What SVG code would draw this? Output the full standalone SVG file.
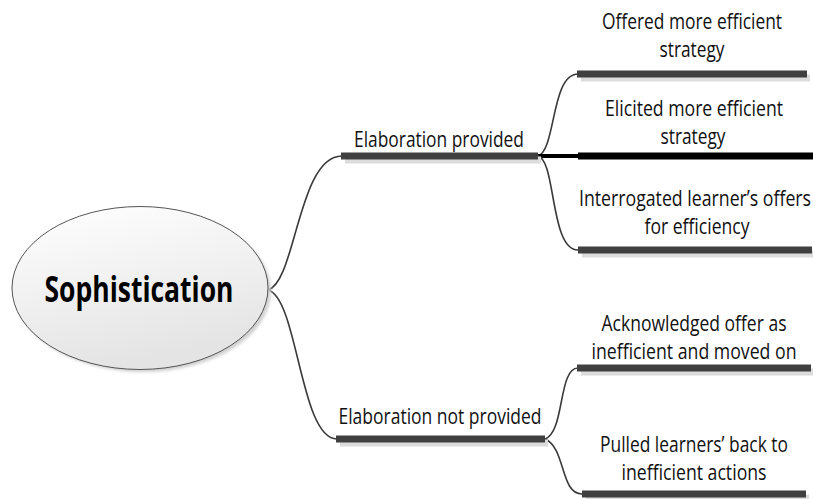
<svg xmlns="http://www.w3.org/2000/svg" width="813" height="499" viewBox="0 0 813 499">
  <defs>
    <linearGradient id="nodeFill" x1="0" y1="0" x2="0.3" y2="1">
      <stop offset="0" stop-color="#ffffff"/>
      <stop offset="1" stop-color="#e4e4e4"/>
    </linearGradient>
    <filter id="soft" x="-10%" y="-10%" width="120%" height="120%">
      <feGaussianBlur stdDeviation="1.5"/>
    </filter>
  </defs>
  <style>
    .lbl { font-family: "Open Sans", "Liberation Sans", sans-serif; font-size: 21px; fill: #111; text-anchor: middle; }
    .root { font-family: "Open Sans", "Liberation Sans", sans-serif; font-size: 36px; font-weight: bold; fill: #000; text-anchor: middle; }
    .bar { stroke: #404040; stroke-width: 7; }
    .bar-dark { stroke: #000; stroke-width: 7; }
    .shade { stroke: #dcdcdc; stroke-width: 7; }
    .link { fill: none; stroke: #3a3a3a; stroke-width: 1.6; }
    .link-dark { fill: none; stroke: #000; stroke-width: 4; }
  </style>

  <rect width="813" height="499" fill="#ffffff"/>

  <!-- connectors -->
  <g id="connectors">
    <path class="link" d="M268,290 C296,282 298,156 342,156"/>
    <path class="link" d="M268,290 C298,298 300,439 337,439"/>
    <path class="link" d="M538,156 C556,150 551,74 578,74"/>
    <path class="link-dark" d="M538,156 L579,156"/>
    <path class="link" d="M538,156 C556,160 550,250 578,250"/>
    <path class="link" d="M545,439 C565,432 558,368 578,368"/>
    <path class="link" d="M545,439 C566,448 560,494 582,494"/>
  </g>

  <!-- central topic -->
  <g id="sophistication">
    <ellipse cx="143" cy="291" rx="128" ry="81" fill="#d0d0d0" filter="url(#soft)"/>
    <ellipse cx="140" cy="288" rx="128" ry="81.5" fill="url(#nodeFill)" stroke="#555" stroke-width="1"/>
    <text class="root" x="139" y="302" textLength="189" lengthAdjust="spacingAndGlyphs">Sophistication</text>
  </g>

  <!-- main branches (labels are set in a narrowed face: scale 0.84 horizontally) -->
  <g id="elaboration-provided">
    <line class="shade" x1="345" y1="160" x2="541" y2="160"/>
    <line class="bar" x1="341" y1="156" x2="538" y2="156"/>
    <text class="lbl" transform="translate(439,147) scale(0.84,1)" textLength="202.4" lengthAdjust="spacingAndGlyphs">Elaboration provided</text>
  </g>

  <g id="elaboration-not-provided">
    <line class="shade" x1="340" y1="443" x2="548" y2="443"/>
    <line class="bar" x1="336" y1="439" x2="545" y2="439"/>
    <text class="lbl" transform="translate(440,424) scale(0.84,1)" textLength="241.7" lengthAdjust="spacingAndGlyphs">Elaboration not provided</text>
  </g>

  <!-- sub-branches -->
  <g id="offered-strategy">
    <line class="shade" x1="581" y1="78" x2="810" y2="78"/>
    <line class="bar" x1="577" y1="74" x2="807" y2="74"/>
    <text class="lbl" transform="translate(692,29) scale(0.84,1)" textLength="214.3" lengthAdjust="spacingAndGlyphs">Offered more efficient</text>
    <text class="lbl" transform="translate(692,57) scale(0.84,1)" textLength="77.4" lengthAdjust="spacingAndGlyphs">strategy</text>
  </g>

  <g id="elicited-strategy">
    <line class="bar-dark" x1="578" y1="156" x2="813" y2="156"/>
    <text class="lbl" transform="translate(694,116) scale(0.84,1)" textLength="211.9" lengthAdjust="spacingAndGlyphs">Elicited more efficient</text>
    <text class="lbl" transform="translate(693,144) scale(0.84,1)" textLength="77.4" lengthAdjust="spacingAndGlyphs">strategy</text>
  </g>

  <g id="interrogated-offers">
    <line class="shade" x1="582" y1="254" x2="813" y2="254"/>
    <line class="bar" x1="578" y1="250" x2="812" y2="250"/>
    <text class="lbl" transform="translate(695,206) scale(0.84,1)" textLength="276.2" lengthAdjust="spacingAndGlyphs">Interrogated learner’s offers</text>
    <text class="lbl" transform="translate(697,234) scale(0.84,1)" textLength="125" lengthAdjust="spacingAndGlyphs">for efficiency</text>
  </g>

  <g id="acknowledged-offer">
    <line class="shade" x1="581" y1="372" x2="813" y2="372"/>
    <line class="bar" x1="577" y1="368" x2="811" y2="368"/>
    <text class="lbl" transform="translate(694,331) scale(0.84,1)" textLength="220.2" lengthAdjust="spacingAndGlyphs">Acknowledged offer as</text>
    <text class="lbl" transform="translate(694,359) scale(0.84,1)" textLength="244" lengthAdjust="spacingAndGlyphs">inefficient and moved on</text>
  </g>

  <g id="pulled-back">
    <line class="shade" x1="586" y1="498" x2="809" y2="498"/>
    <line class="bar" x1="582" y1="494" x2="806" y2="494"/>
    <text class="lbl" transform="translate(694,452) scale(0.84,1)" textLength="223.8" lengthAdjust="spacingAndGlyphs">Pulled learners’ back to</text>
    <text class="lbl" transform="translate(694,480) scale(0.84,1)" textLength="172.6" lengthAdjust="spacingAndGlyphs">inefficient actions</text>
  </g>
</svg>
